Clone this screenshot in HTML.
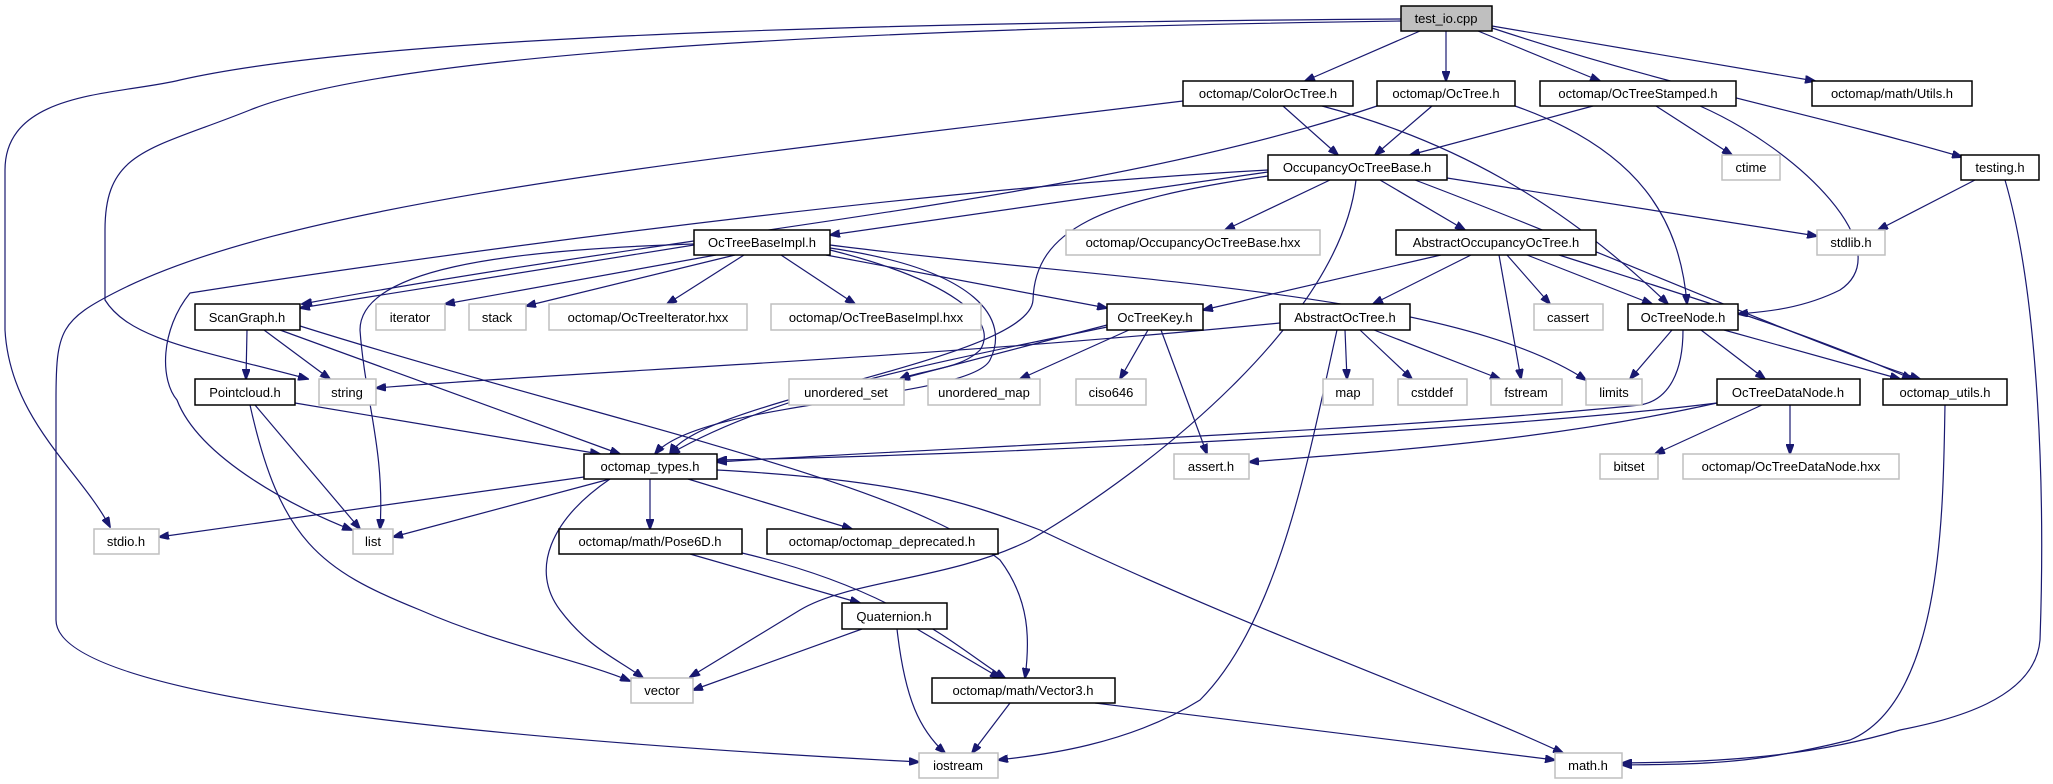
<!DOCTYPE html>
<html><head><meta charset="utf-8"><style>
html,body{margin:0;padding:0;background:#fff;}
svg{display:block;}
text{font-family:"Liberation Sans",sans-serif;font-size:13px;text-anchor:middle;fill:#000;}
.n{fill:#fff;stroke:#000;stroke-width:1.5;}
.g{fill:#fff;stroke:#bfbfbf;stroke-width:1.5;}
path{fill:none;stroke:#191970;stroke-width:1.2;}
</style></head><body>
<svg width="2053" height="784" viewBox="0 0 2053 784">
<defs><marker id="a" markerWidth="11" markerHeight="8" refX="10" refY="4" orient="auto" markerUnits="userSpaceOnUse"><path d="M0,0 L11,4 L0,8 Z" style="fill:#191970;stroke:#191970;stroke-width:1"/></marker></defs>
<g marker-end="url(#a)">
<path d="M1420,31 L1305,81"/>
<path d="M1446,31 L1446,81"/>
<path d="M1478,31 L1600,81"/>
<path d="M1492,26 L1815,81"/>
<path d="M1492,28 C1680,90 1800,110 1962,157"/>
<path d="M1401,19 C1000,22 400,30 180,80 C120,95 5,90 5,170 L5,330 C10,420 80,470 110,527"/>
<path d="M1401,21 C900,28 400,50 250,110 C150,150 105,150 105,230 L105,300 C130,340 200,350 308,379"/>
<path d="M1283,106 L1338,155"/>
<path d="M1322,106 C1450,140 1560,200 1668,304"/>
<path d="M1183,101 C700,160 300,200 120,290 C60,320 56,330 56,400 L56,620 C56,700 500,740 919,762"/>
<path d="M1432,106 L1375,155"/>
<path d="M1515,106 C1640,150 1680,220 1687,304"/>
<path d="M1377,106 C1100,200 700,230 302,304"/>
<path d="M1593,106 L1410,155"/>
<path d="M1656,106 L1732,155"/>
<path d="M1700,106 C1800,150 1900,250 1840,290 C1800,310 1760,312 1738,314"/>
<path d="M1975,180 L1878,230"/>
<path d="M2005,180 C2040,300 2045,500 2040,640 C2035,700 1950,720 1900,730 C1800,760 1700,762 1622,763"/>
<path d="M1268,172 L830,235"/>
<path d="M1330,180 L1225,230"/>
<path d="M1380,180 L1465,230"/>
<path d="M1447,178 L1817,236"/>
<path d="M1415,180 C1600,250 1800,340 1920,379"/>
<path d="M1268,170 C900,190 400,260 190,293 C160,330 160,380 177,400 C200,460 300,510 352,530"/>
<path d="M1268,176 C1100,200 1035,230 1033,300 C1030,360 700,400 670,454"/>
<path d="M1356,180 C1340,320 1150,470 1030,540 C950,580 850,580 800,610 L690,677"/>
<path d="M694,245 L300,308"/>
<path d="M716,255 L445,304"/>
<path d="M735,255 L526,306"/>
<path d="M744,255 L667,304"/>
<path d="M781,255 L855,304"/>
<path d="M826,255 L1107,308"/>
<path d="M830,245 C1100,280 1450,290 1586,380"/>
<path d="M694,244 C500,250 360,270 360,330 C365,400 385,450 380,529"/>
<path d="M830,248 C980,270 1010,320 990,360 C970,400 700,400 655,454"/>
<path d="M830,250 C950,280 1000,320 980,350 C960,370 920,370 900,379"/>
<path d="M1107,325 L900,379"/>
<path d="M1129,330 L1020,379"/>
<path d="M1148,330 L1120,379"/>
<path d="M1161,330 L1207,454"/>
<path d="M1107,327 C950,360 780,390 670,454"/>
<path d="M1280,323 C900,360 600,370 376,388"/>
<path d="M1345,330 L1347,379"/>
<path d="M1360,330 L1412,379"/>
<path d="M1374,330 L1500,379"/>
<path d="M1337,330 C1310,450 1280,620 1200,700 C1120,750 1020,757 998,760"/>
<path d="M1441,255 L1203,310"/>
<path d="M1471,255 L1373,304"/>
<path d="M1507,255 L1550,304"/>
<path d="M1527,255 L1652,304"/>
<path d="M1499,255 L1521,379"/>
<path d="M1559,255 C1700,300 1800,330 1912,379"/>
<path d="M1672,330 L1630,379"/>
<path d="M1701,330 L1765,379"/>
<path d="M1724,330 L1900,379"/>
<path d="M1683,330 C1683,370 1670,400 1640,405 C1400,430 900,450 717,462"/>
<path d="M1717,403 C1500,430 1000,455 717,460"/>
<path d="M1717,403 C1550,440 1400,450 1249,462"/>
<path d="M1762,405 L1655,454"/>
<path d="M1790,405 L1790,454"/>
<path d="M1945,405 C1943,500 1945,700 1850,740 C1750,765 1700,764 1622,765"/>
<path d="M295,403 L600,454"/>
<path d="M255,405 L360,529"/>
<path d="M250,405 C280,540 320,570 420,610 C500,645 580,660 630,681"/>
<path d="M247,330 L246,379"/>
<path d="M264,330 L330,379"/>
<path d="M280,330 L620,454"/>
<path d="M300,326 C600,420 900,480 1000,560 C1030,600 1030,640 1025,678"/>
<path d="M584,477 L159,537"/>
<path d="M610,479 L393,537"/>
<path d="M610,479 C550,520 530,570 560,610 C590,650 620,660 643,678"/>
<path d="M650,479 L650,529"/>
<path d="M688,479 L852,529"/>
<path d="M717,470 C900,480 960,500 1040,530 C1250,630 1450,700 1563,753"/>
<path d="M690,554 L860,603"/>
<path d="M742,553 C900,590 960,650 1005,678"/>
<path d="M862,629 L693,690"/>
<path d="M917,629 L1000,678"/>
<path d="M897,629 C905,700 920,730 945,753"/>
<path d="M1010,703 L972,753"/>
<path d="M1095,703 L1555,760"/>
</g>
<!-- nodes -->
<rect x="1401" y="6" width="91" height="25" style="fill:#bfbfbf;stroke:#000;stroke-width:1.5"/><text x="1446" y="23">test_io.cpp</text>
<rect class="n" x="1183" y="81" width="170" height="25"/><text x="1268" y="98">octomap/ColorOcTree.h</text>
<rect class="n" x="1377" y="81" width="138" height="25"/><text x="1446" y="98">octomap/OcTree.h</text>
<rect class="n" x="1540" y="81" width="196" height="25"/><text x="1638" y="98">octomap/OcTreeStamped.h</text>
<rect class="n" x="1812" y="81" width="160" height="25"/><text x="1892" y="98">octomap/math/Utils.h</text>
<rect class="n" x="1268" y="155" width="179" height="25"/><text x="1357" y="172">OccupancyOcTreeBase.h</text>
<rect class="g" x="1722" y="155" width="58" height="25"/><text x="1751" y="172">ctime</text>
<rect class="n" x="1961" y="155" width="78" height="25"/><text x="2000" y="172">testing.h</text>
<rect class="g" x="1066" y="230" width="254" height="25"/><text x="1193" y="247">octomap/OccupancyOcTreeBase.hxx</text>
<rect class="n" x="1396" y="230" width="200" height="25"/><text x="1496" y="247">AbstractOccupancyOcTree.h</text>
<rect class="g" x="1817" y="230" width="68" height="25"/><text x="1851" y="247">stdlib.h</text>
<rect class="n" x="694" y="230" width="136" height="25"/><text x="762" y="247">OcTreeBaseImpl.h</text>
<rect class="n" x="195" y="304" width="105" height="26"/><text x="247" y="322">ScanGraph.h</text>
<rect class="g" x="376" y="304" width="69" height="26"/><text x="410" y="322">iterator</text>
<rect class="g" x="469" y="304" width="57" height="26"/><text x="497" y="322">stack</text>
<rect class="g" x="549" y="304" width="198" height="26"/><text x="648" y="322">octomap/OcTreeIterator.hxx</text>
<rect class="g" x="771" y="304" width="210" height="26"/><text x="876" y="322">octomap/OcTreeBaseImpl.hxx</text>
<rect class="n" x="1107" y="304" width="96" height="26"/><text x="1155" y="322">OcTreeKey.h</text>
<rect class="n" x="1280" y="304" width="130" height="26"/><text x="1345" y="322">AbstractOcTree.h</text>
<rect class="g" x="1534" y="304" width="69" height="26"/><text x="1568" y="322">cassert</text>
<rect class="n" x="1628" y="304" width="110" height="26"/><text x="1683" y="322">OcTreeNode.h</text>
<rect class="n" x="195" y="379" width="100" height="26"/><text x="245" y="397">Pointcloud.h</text>
<rect class="g" x="319" y="379" width="57" height="26"/><text x="347" y="397">string</text>
<rect class="g" x="789" y="379" width="115" height="26"/><text x="846" y="397">unordered_set</text>
<rect class="g" x="928" y="379" width="112" height="26"/><text x="984" y="397">unordered_map</text>
<rect class="g" x="1076" y="379" width="70" height="26"/><text x="1111" y="397">ciso646</text>
<rect class="g" x="1323" y="379" width="50" height="26"/><text x="1348" y="397">map</text>
<rect class="g" x="1398" y="379" width="69" height="26"/><text x="1432" y="397">cstddef</text>
<rect class="g" x="1491" y="379" width="71" height="26"/><text x="1526" y="397">fstream</text>
<rect class="g" x="1586" y="379" width="56" height="26"/><text x="1614" y="397">limits</text>
<rect class="n" x="1717" y="379" width="143" height="26"/><text x="1788" y="397">OcTreeDataNode.h</text>
<rect class="n" x="1883" y="379" width="124" height="26"/><text x="1945" y="397">octomap_utils.h</text>
<rect class="n" x="584" y="454" width="133" height="25"/><text x="650" y="471">octomap_types.h</text>
<rect class="g" x="1174" y="454" width="75" height="25"/><text x="1211" y="471">assert.h</text>
<rect class="g" x="1600" y="454" width="58" height="25"/><text x="1629" y="471">bitset</text>
<rect class="g" x="1683" y="454" width="216" height="25"/><text x="1791" y="471">octomap/OcTreeDataNode.hxx</text>
<rect class="g" x="94" y="529" width="65" height="25"/><text x="126" y="546">stdio.h</text>
<rect class="g" x="353" y="529" width="40" height="25"/><text x="373" y="546">list</text>
<rect class="n" x="559" y="529" width="183" height="25"/><text x="650" y="546">octomap/math/Pose6D.h</text>
<rect class="n" x="767" y="529" width="231" height="25"/><text x="882" y="546">octomap/octomap_deprecated.h</text>
<rect class="n" x="842" y="603" width="105" height="26"/><text x="894" y="621">Quaternion.h</text>
<rect class="g" x="631" y="678" width="62" height="25"/><text x="662" y="695">vector</text>
<rect class="n" x="932" y="678" width="183" height="25"/><text x="1023" y="695">octomap/math/Vector3.h</text>
<rect class="g" x="919" y="753" width="79" height="25"/><text x="958" y="770">iostream</text>
<rect class="g" x="1555" y="753" width="67" height="25"/><text x="1588" y="770">math.h</text>
</svg>
</body></html>
